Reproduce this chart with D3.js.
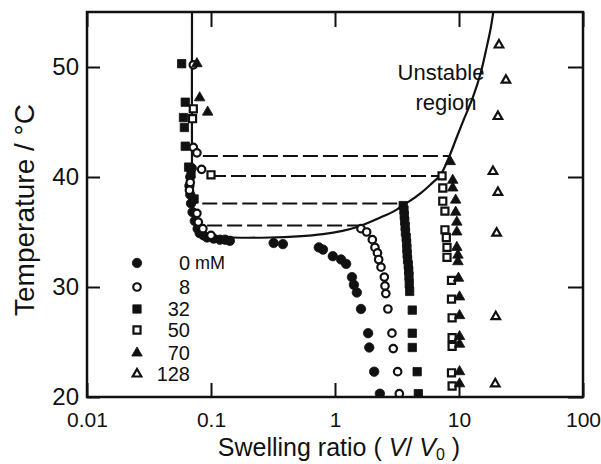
<!DOCTYPE html>
<html>
<head>
<meta charset="utf-8">
<script src="https://cdn.jsdelivr.net/npm/d3@7"></script>
<style>
  body { margin: 0; background: #fff; }
  text { font-family: "Liberation Sans", Arial, sans-serif; fill: #111; }
</style>
</head>
<body>
<div id="chart"></div>
<script>
// axis ticks
let xTicks = [0.01, 0.1, 1, 10, 100];
let xTickLabels = ["0.01", "0.1", "1", "10", "100"];
let yTicks = [20, 30, 40, 50];

// swelling ratio / temperature per NaCl concentration
let s0X = [0.070,0.068,0.067,0.068,0.069,0.071,0.074,0.078,0.081,0.087,0.093,0.105,0.118,0.130,0.142,0.32,0.38,
           0.74,0.80,0.96,1.12,1.23,1.37,1.42,1.50,1.62,1.85,1.89,2.07,2.30];
let s0T = [40.8,40.0,39.2,38.4,37.6,36.8,36.0,35.3,34.9,34.7,34.5,34.4,34.3,34.3,34.2,34.0,33.9,
           33.6,33.4,32.8,32.5,32.1,30.9,30.2,29.5,28.0,25.8,24.5,22.3,20.3];

let s8X = [0.072,0.072,0.077,0.084,0.068,0.067,0.072,0.077,0.079,0.086,0.100,
           1.62,1.80,2.0,2.1,2.2,2.25,2.35,2.5,2.53,2.57,2.67,2.88,2.95,3.2,3.3];
let s8T = [50.2,42.7,42.2,40.7,39.5,38.8,37.9,36.7,35.9,35.3,34.7,
           35.3,35.0,34.3,33.6,33.1,32.5,31.8,30.9,30.1,29.4,28.0,25.8,24.4,22.3,20.3];

let s32X = [0.058,0.062,0.060,0.061,0.062,0.066,0.069,0.073,
            3.55,3.6,3.62,3.65,3.68,3.7,3.75,3.78,3.8,3.82,3.85,3.9,3.93,3.95,3.97,4.0,
            4.2,4.2,4.2,4.6,4.7];
let s32T = [50.3,46.8,45.4,44.5,42.8,40.9,40.3,38.0,
            37.4,37.0,36.5,36.0,35.5,35.0,34.5,34.0,33.5,33.0,32.5,32.0,31.5,31.0,30.3,29.6,
            27.9,25.8,24.5,22.3,20.3];

let s50X = [0.072,0.071,0.100, 7.3,7.4,7.4,7.7,7.7,7.9,8.0,8.0, 8.7,8.7,8.8,8.8,8.8,8.7,8.8];
let s50T = [46.2,45.3,40.2, 40.1,39.0,37.8,36.9,35.2,34.5,33.6,32.7, 30.6,28.9,27.2,25.4,24.6,22.2,21.0];

let s70X = [0.077,0.081,0.094, 8.5,8.9,8.9,9.4,9.4,9.6,9.6,9.6,9.8,9.8, 9.9,10.1,10.1,10.1,10.1,10.1,10.1];
let s70T = [50.3,47.2,45.9, 41.4,39.7,39.0,37.9,36.8,35.9,35.0,33.6,32.9,32.3, 30.8,29.1,27.4,25.5,24.8,22.3,21.2];

let s128X = [21.0,23.9,20.6,18.8,20.6,20.1,19.8,19.6];
let s128T = [52.0,48.8,45.5,40.5,38.6,34.9,27.3,21.2];

// coexistence curve (solid line)
let curveX = [0.0703,0.0703,0.071,0.073,0.077,0.085,0.1,0.15,0.3,0.5,0.8,1.15,1.55,2.3,3.0,3.6,4.0,5.0,6.0,7.1,8.3,9.5,11,13,15,16.5,18,19.2];
let curveT = [56,40,37.5,36.3,35.4,34.9,34.65,34.5,34.5,34.6,34.8,35.1,35.5,36.3,36.9,37.5,37.8,38.6,39.4,40.2,41.8,43.5,45.3,47.3,49.5,51.5,53.5,55.5];

// tie lines (dashed)
let tieT = [41.9, 40.1, 37.6, 35.6];
let tieX0 = [0.086, 0.100, 0.085, 0.093];
let tieX1 = [8.3, 7.1, 3.6, 1.55];

let legendLabels = ["0", "8", "32", "50", "70", "128"];

let width = 601, height = 464;
let margin = {left: 87, right: 18, top: 12, bottom: 67};

let svg = d3.select("#chart").append("svg")
    .attr("width", width)
    .attr("height", height);

let x = d3.scaleLog().domain([0.01, 100]).range([margin.left, width - margin.right]);
let y = d3.scaleLinear().domain([20, 55]).range([height - margin.bottom, margin.top]);

let x0 = x.range()[0], x1 = x.range()[1], y0 = y.range()[0], y1 = y.range()[1];

svg.append("clipPath").attr("id", "clip")
    .append("rect").attr("x", x0).attr("y", y1).attr("width", x1 - x0).attr("height", y0 - y1);

let plot = svg.append("g").attr("clip-path", "url(#clip)");

// tie lines
tieT.forEach((t, i) => {
    plot.append("line")
        .attr("x1", x(tieX0[i])).attr("x2", x(tieX1[i]))
        .attr("y1", y(t)).attr("y2", y(t))
        .attr("stroke", "#111").attr("stroke-width", 2)
        .attr("stroke-dasharray", "15,5");
});

// curve
let line = d3.line()
    .x(d => x(d[0])).y(d => y(d[1]))
    .curve(d3.curveCatmullRom.alpha(0.5));
plot.append("path")
    .datum(curveX.map((v, i) => [v, curveT[i]]))
    .attr("d", line)
    .attr("fill", "none").attr("stroke", "#111").attr("stroke-width", 2.2);

// series
let series = [
    {xs: s0X, ts: s0T, shape: d3.symbolCircle, filled: true, size: 70},
    {xs: s8X, ts: s8T, shape: d3.symbolCircle, filled: false, size: 44},
    {xs: s32X, ts: s32T, shape: d3.symbolSquare, filled: true, size: 70},
    {xs: s50X, ts: s50T, shape: d3.symbolSquare, filled: false, size: 50},
    {xs: s70X, ts: s70T, shape: d3.symbolTriangle, filled: true, size: 48},
    {xs: s128X, ts: s128T, shape: d3.symbolTriangle, filled: false, size: 32}
];

function styleMark(sel, s) {
    sel.attr("d", d3.symbol().type(s.shape).size(s.size))
        .attr("fill", s.filled ? "#111" : "#fff")
        .attr("stroke", "#111")
        .attr("stroke-width", s.filled ? 0.8 : 2.2);
}

series.forEach(s => {
    plot.append("g").selectAll("path")
        .data(s.xs.map((v, i) => [v, s.ts[i]]))
        .enter().append("path")
        .attr("transform", d => `translate(${x(d[0])},${y(d[1])})`)
        .call(styleMark, s);
});

// frame
svg.append("rect")
    .attr("x", x0).attr("y", y1).attr("width", x1 - x0).attr("height", y0 - y1)
    .attr("fill", "none").attr("stroke", "#111").attr("stroke-width", 2.5);

// axes, ticks pointing inward
let xAxis = svg.append("g").attr("transform", `translate(0,${y0})`)
    .call(d3.axisBottom(x).tickValues(xTicks).tickSizeInner(-14).tickSizeOuter(0).tickPadding(15)
        .tickFormat((d, i) => xTickLabels[i]));
let xAxisTop = svg.append("g").attr("transform", `translate(0,${y1})`)
    .call(d3.axisTop(x).tickValues(xTicks).tickSizeInner(-15).tickSizeOuter(0).tickFormat(""));
let yAxis = svg.append("g").attr("transform", `translate(${x0},0)`)
    .call(d3.axisLeft(y).tickValues(yTicks).tickSizeInner(-13).tickSizeOuter(0).tickPadding(8));
let yAxisRight = svg.append("g").attr("transform", `translate(${x1},0)`)
    .call(d3.axisRight(y).tickValues(yTicks).tickSizeInner(-15).tickSizeOuter(0).tickFormat(""));

[xAxis, xAxisTop, yAxis, yAxisRight].forEach(a => {
    a.select(".domain").remove();
    a.selectAll("line").attr("stroke", "#111").attr("stroke-width", 2);
    a.selectAll("text").attr("fill", "#111").style("font-family", null);
});
xAxis.selectAll("text").attr("font-size", 21);
yAxis.selectAll("text").attr("font-size", 24);

// axis titles
svg.append("text")
    .attr("transform", "translate(34,210) rotate(-90)")
    .attr("text-anchor", "middle")
    .attr("font-size", 28)
    .text("Temperature / °C");

let xt = svg.append("text")
    .attr("x", 339).attr("y", 456)
    .attr("text-anchor", "middle")
    .attr("font-size", 25);
xt.append("tspan").text("Swelling ratio ( ");
xt.append("tspan").attr("font-style", "italic").text("V");
xt.append("tspan").text("/ ");
xt.append("tspan").attr("font-style", "italic").text("V");
xt.append("tspan").attr("font-size", 16).attr("dy", 4).text("0");
xt.append("tspan").attr("dy", -4).text(" )");

// region label
svg.append("text").attr("x", 441).attr("y", 80).attr("text-anchor", "middle")
    .attr("font-size", 22).text("Unstable");
svg.append("text").attr("x", 446).attr("y", 110).attr("text-anchor", "middle")
    .attr("font-size", 22).text("region");

// legend
let legendY = [263, 287, 309, 330, 353, 374];
series.forEach((s, i) => {
    svg.append("path")
        .attr("transform", `translate(137,${legendY[i]})`)
        .call(styleMark, s);
    svg.append("text")
        .attr("x", 190).attr("y", legendY[i]).attr("dy", "0.35em")
        .attr("text-anchor", "end").attr("font-size", 20)
        .text(legendLabels[i]);
});
svg.append("text").attr("x", 195).attr("y", legendY[0]).attr("dy", "0.35em")
    .attr("font-size", 18).text("mM");
</script>
</body>
</html>
